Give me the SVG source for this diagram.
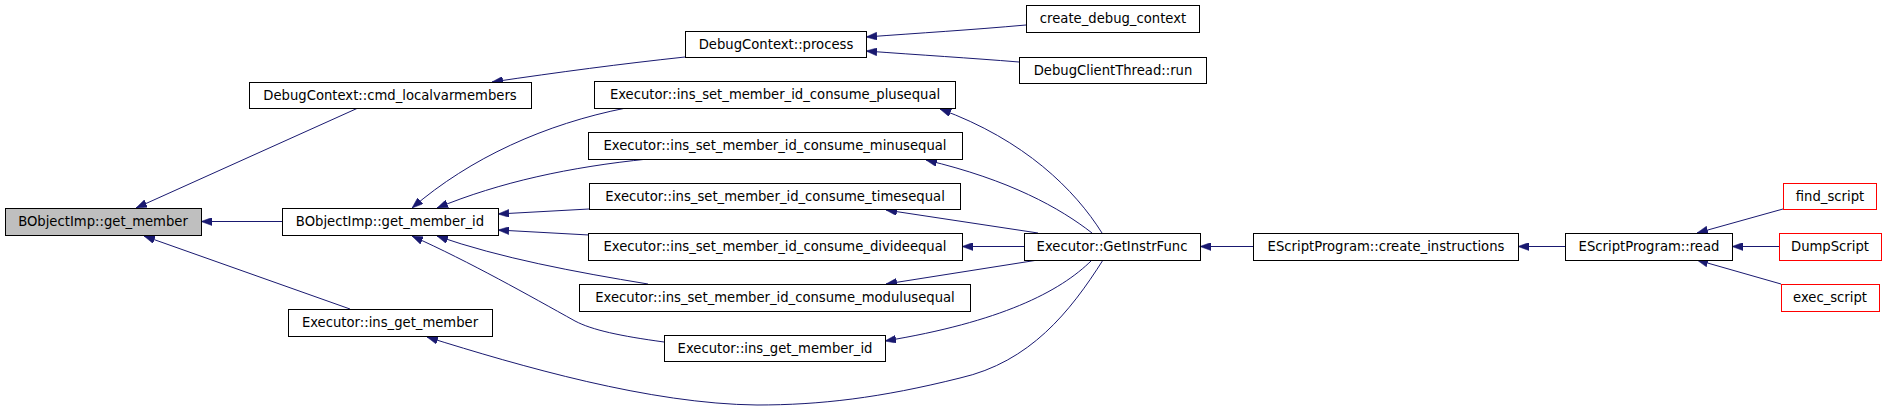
<svg xmlns="http://www.w3.org/2000/svg" width="1885" height="410" viewBox="0 0 1885 410">
<style>
.n rect{fill:#ffffff;stroke:#000000;stroke-width:1}
.n.cur rect{fill:#bfbfbf}
.n.ext rect{stroke:#ff0000}
.n text{font-family:"DejaVu Sans",sans-serif;font-size:13.2px;fill:#000000;text-anchor:middle}
.e path{fill:none;stroke:#191970;stroke-width:1;marker-end:url(#ah)}
</style>
<defs>
<marker id="ah" viewBox="0 0 11 8" refX="11" refY="4" markerWidth="11" markerHeight="8" markerUnits="userSpaceOnUse" orient="auto">
<path d="M0,0 L11,4 L0,8 z" fill="#191970" stroke="#191970" stroke-width="0.5"/>
</marker>
</defs>
<rect x="0" y="0" width="1885" height="410" fill="#ffffff"/>
<g id="edges" class="e">
<path d="M358,108 L136,208"/>
<path d="M282,221.5 L201,221.5"/>
<path d="M350,309 L144,236"/>
<path d="M685,57 C620,64 560,72 492,82"/>
<path d="M1026,25 C970,30 920,33 866,37"/>
<path d="M1019,62 C970,58 920,55 866,51"/>
<path d="M626,108 C545,124 470,158 412,208"/>
<path d="M648,159 C570,167 500,182 437,208"/>
<path d="M589,209 L498,214"/>
<path d="M589,235 L498,230"/>
<path d="M648,284 C575,272 500,258 437,236"/>
<path d="M664,342 C620,336 592,330 575,321 C530,296 470,262 412,236"/>
<path d="M1102,233 C1075,190 1025,140 940,109"/>
<path d="M1092,233 C1060,208 1010,180 926,160"/>
<path d="M1038,233 L886,210"/>
<path d="M1024,246.5 L962,246.5"/>
<path d="M1038,260 L886,284"/>
<path d="M1092,260 C1060,292 1000,322 885,341"/>
<path d="M1103,260 C1070,312 1030,362 960,378 C880,398 820,405 757,405 C650,404 520,366 427,337"/>
<path d="M1253,246.5 L1200,246.5"/>
<path d="M1565,246.5 L1518,246.5"/>
<path d="M1783,209 L1697,233"/>
<path d="M1779,246.5 L1732,246.5"/>
<path d="M1781,284 L1697,260"/>
</g>
<g id="n_get_member" class="n cur"><rect x="5.5" y="208.5" width="196" height="27"/><text x="103" y="226">BObjectImp::get_member</text></g>
<g id="n_cmd_localvarmembers" class="n"><rect x="249.5" y="82.5" width="282" height="26"/><text x="390" y="100">DebugContext::cmd_localvarmembers</text></g>
<g id="n_get_member_id" class="n"><rect x="282.5" y="208.5" width="216" height="27"/><text x="390" y="226">BObjectImp::get_member_id</text></g>
<g id="n_ins_get_member" class="n"><rect x="288.5" y="309.5" width="204" height="27"/><text x="390" y="327">Executor::ins_get_member</text></g>
<g id="n_process" class="n"><rect x="685.5" y="31.5" width="181" height="26"/><text x="776" y="49">DebugContext::process</text></g>
<g id="n_plusequal" class="n"><rect x="594.5" y="81.5" width="361" height="27"/><text x="775" y="99">Executor::ins_set_member_id_consume_plusequal</text></g>
<g id="n_minusequal" class="n"><rect x="588.5" y="132.5" width="374" height="27"/><text x="775" y="150">Executor::ins_set_member_id_consume_minusequal</text></g>
<g id="n_timesequal" class="n"><rect x="589.5" y="183.5" width="371" height="26"/><text x="775" y="201">Executor::ins_set_member_id_consume_timesequal</text></g>
<g id="n_divideequal" class="n"><rect x="588.5" y="233.5" width="374" height="27"/><text x="775" y="251">Executor::ins_set_member_id_consume_divideequal</text></g>
<g id="n_modulusequal" class="n"><rect x="579.5" y="284.5" width="391" height="27"/><text x="775" y="302">Executor::ins_set_member_id_consume_modulusequal</text></g>
<g id="n_ins_get_member_id" class="n"><rect x="664.5" y="335.5" width="221" height="26"/><text x="775" y="353">Executor::ins_get_member_id</text></g>
<g id="n_create_debug_context" class="n"><rect x="1026.5" y="5.5" width="173" height="27"/><text x="1113" y="23">create_debug_context</text></g>
<g id="n_debugclientthread_run" class="n"><rect x="1019.5" y="57.5" width="187" height="26"/><text x="1113" y="75">DebugClientThread::run</text></g>
<g id="n_getinstrfunc" class="n"><rect x="1024.5" y="233.5" width="176" height="27"/><text x="1112" y="251">Executor::GetInstrFunc</text></g>
<g id="n_create_instructions" class="n"><rect x="1253.5" y="233.5" width="265" height="27"/><text x="1386" y="251">EScriptProgram::create_instructions</text></g>
<g id="n_read" class="n"><rect x="1565.5" y="233.5" width="167" height="27"/><text x="1649" y="251">EScriptProgram::read</text></g>
<g id="n_find_script" class="n ext"><rect x="1783.5" y="183.5" width="93" height="26"/><text x="1830" y="201">find_script</text></g>
<g id="n_dumpscript" class="n ext"><rect x="1779.5" y="233.5" width="102" height="27"/><text x="1830" y="251">DumpScript</text></g>
<g id="n_exec_script" class="n ext"><rect x="1781.5" y="284.5" width="98" height="27"/><text x="1830" y="302">exec_script</text></g>
</svg>
